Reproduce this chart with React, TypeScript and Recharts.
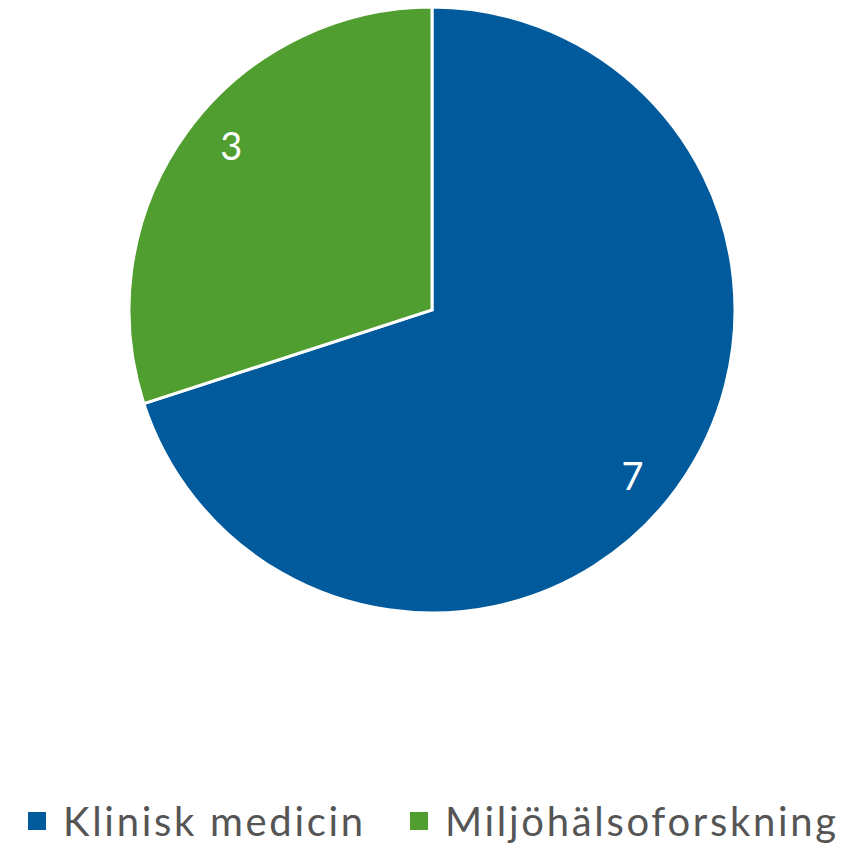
import React from "react";
import { PieChart, Pie, Cell, Legend } from "recharts";

const categories = ["Klinisk medicin", "Miljöhälsoforskning"];
const values = [7, 3];
const colors = ["#005a9c", "#509e2f"];

const data = categories.map((name, i) => ({ name, value: values[i] }));

const FONT = "'Source Sans Pro', Lato, 'Noto Sans', sans-serif";
const LEGEND_FONT = "Lato, 'Noto Sans', sans-serif";

const RADIAN = Math.PI / 180;

const renderLabel = (props: any) => {
  const { cx, cy, midAngle, value } = props;
  const r = 260;
  const a = midAngle - 3.5;
  const x = cx + r * Math.cos(-a * RADIAN);
  const y = cy + r * Math.sin(-a * RADIAN);
  return (
    <text
      x={x}
      y={y}
      fill="#ffffff"
      fontSize={38}
      fontFamily={FONT}
      textAnchor="middle"
      dominantBaseline="central"
    >
      {value}
    </text>
  );
};

const renderLegend = () => (
  <div
    style={{
      position: "relative",
      height: 846,
      fontFamily: LEGEND_FONT,
      fontSize: 40,
      letterSpacing: 2.7,
      color: "#555555",
    }}
  >
    {data.map((d, i) => (
      <div
        key={d.name}
        style={{
          position: "absolute",
          left: i === 0 ? 28 : 410,
          top: 798,
          display: "flex",
          alignItems: "center",
          height: 46,
          whiteSpace: "nowrap",
        }}
      >
        <span
          style={{
            display: "inline-block",
            width: 18,
            height: 18,
            background: colors[i],
            marginRight: 17,
          }}
        />
        <span style={{ lineHeight: "46px" }}>{d.name}</span>
      </div>
    ))}
  </div>
);

export default function App() {
  return (
    <div style={{ position: "absolute", left: 0, top: 0, background: "#fff" }}>
      <PieChart width={864} height={846} margin={{ top: 0, right: 0, bottom: 0, left: 0 }}>
        <Pie
          data={data}
          dataKey="value"
          nameKey="name"
          cx={432}
          cy={310}
          outerRadius={303}
          startAngle={90}
          endAngle={-270}
          stroke="#ffffff"
          strokeWidth={3}
          label={renderLabel}
          labelLine={false}
          isAnimationActive={false}
        >
          {data.map((d, i) => (
            <Cell key={d.name} fill={colors[i]} />
          ))}
        </Pie>
        <Legend
          content={renderLegend}
          wrapperStyle={{ left: 0, top: 0, width: 864, height: 846, pointerEvents: "none" }}
        />
      </PieChart>
    </div>
  );
}
